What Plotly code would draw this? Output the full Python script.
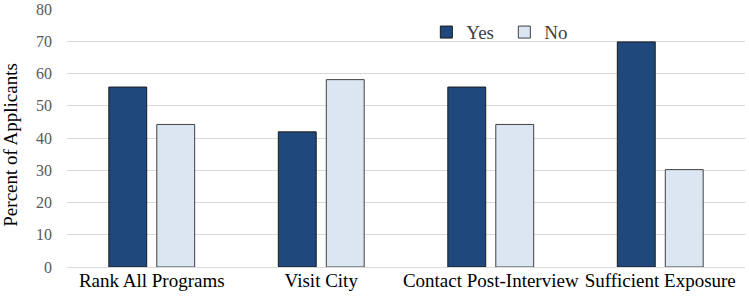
import plotly.graph_objects as go

categories = ["Rank All Programs", "Visit City", "Contact Post-Interview", "Sufficient Exposure"]
yes_values = [55.8, 41.9, 55.8, 69.8]
no_values = [44.2, 58.1, 44.2, 30.2]
y_ticks = [0, 10, 20, 30, 40, 50, 60, 70, 80]
y_title = "Percent of Applicants"

SERIF = "Liberation Serif, Times New Roman, serif"

fig = go.Figure()
fig.add_trace(go.Bar(name="Yes", x=categories, y=yes_values,
                     marker=dict(color="#1f497d", line=dict(color="#1a1a1a", width=1))))
fig.add_trace(go.Bar(name="No", x=categories, y=no_values,
                     marker=dict(color="#dce6f2", line=dict(color="#404040", width=1))))

fig.update_layout(
    width=749, height=303,
    margin=dict(l=67, r=4, t=9, b=36),
    paper_bgcolor="white", plot_bgcolor="white",
    barmode="group", bargap=0.434, bargroupgap=0.21,
    font=dict(family=SERIF, size=19, color="black"),
    showlegend=True,
    legend=dict(orientation="h", x=0.53, xanchor="left", y=0.91, yanchor="middle",
                font=dict(family=SERIF, size=19, color="#404040"), bgcolor="rgba(0,0,0,0)",
                itemwidth=30, entrywidth=33, traceorder="normal"),
    xaxis=dict(showgrid=False, showline=False, ticks="", automargin=False,
               tickfont=dict(family=SERIF, size=19, color="black")),
    yaxis=dict(range=[0, 80], tickvals=y_ticks, showgrid=True, gridcolor="#d9d9d9",
               gridwidth=1, zeroline=True, zerolinecolor="#d9d9d9", zerolinewidth=1,
               tickfont=dict(family=SERIF, size=16, color="#595959"), ticks="",
               ticklabelstandoff=14, automargin=False),
    annotations=[dict(text=y_title, textangle=-90, xref="paper", yref="paper",
                      x=-0.083, y=0.473, xanchor="center", yanchor="middle",
                      showarrow=False, font=dict(family=SERIF, size=19, color="black"))],
)

fig.write_html("out.html", config={"displayModeBar": False},
               post_script="document.body.style.margin='0';")
